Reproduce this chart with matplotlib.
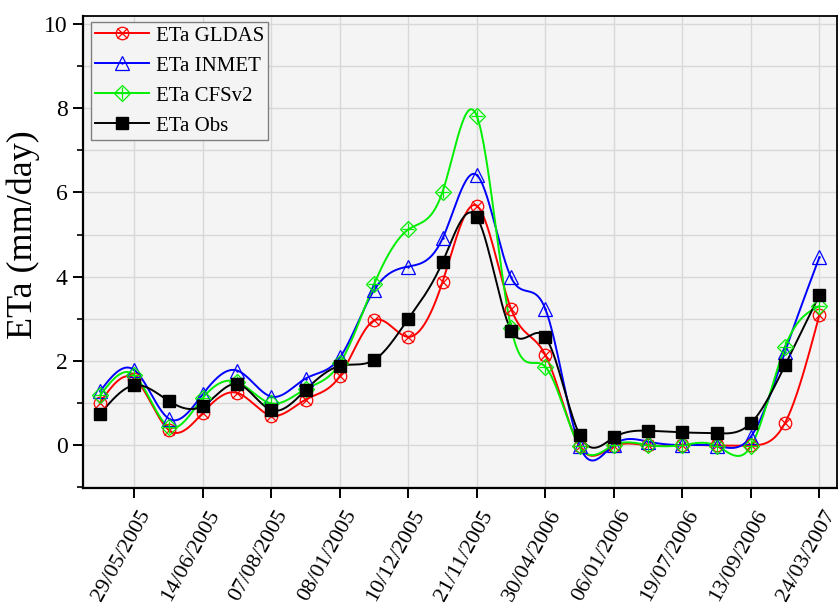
import numpy as np
import matplotlib
matplotlib.use("Agg")
import matplotlib.pyplot as plt
import matplotlib.transforms as mtransforms
from matplotlib.legend_handler import HandlerTuple

plt.rcParams['font.family'] = ['Liberation Serif', 'DejaVu Serif']
plt.rcParams['font.serif'] = ['Liberation Serif', 'DejaVu Serif']

# ---- data ----
x_idx = list(range(22))
tick_idx = [1, 3, 5, 7, 9, 11, 13, 15, 17, 19, 21]
tick_labels = ['29/05/2005', '14/06/2005', '07/08/2005', '08/01/2005', '10/12/2005',
               '21/11/2005', '30/04/2006', '06/01/2006', '19/07/2006', '13/09/2006',
               '24/03/2007']
eta_gldas = [1.01, 1.58, 0.36, 0.77, 1.24, 0.70, 1.08, 1.64, 2.96, 2.57, 3.88, 5.68,
             3.23, 2.14, -0.03, -0.03, -0.01, 0.00, -0.01, -0.01, 0.53, 3.09]
eta_inmet = [1.28, 1.78, 0.63, 1.21, 1.77, 1.15, 1.58, 2.08, 3.68, 4.24, 4.91, 6.41,
             3.98, 3.23, -0.02, 0.01, 0.08, 0.00, -0.02, 0.20, 2.22, 4.46]
eta_cfsv2 = [1.18, 1.66, 0.44, 1.12, 1.50, 0.99, 1.33, 1.94, 3.82, 5.12, 6.02, 7.81,
             2.78, 1.86, -0.03, 0.00, 0.00, 0.00, -0.02, -0.03, 2.34, 3.30]
eta_obs = [0.74, 1.42, 1.05, 0.93, 1.45, 0.83, 1.31, 1.88, 2.02, 3.00, 4.35, 5.41,
           2.72, 2.56, 0.24, 0.18, 0.34, 0.30, 0.28, 0.52, 1.90, 3.56]
y_ticks = [0, 2, 4, 6, 8, 10]


def natural_spline(xs, ys, n=30):
    xs = np.asarray(xs, float)
    ys = np.asarray(ys, float)
    m = len(xs)
    h = np.diff(xs)
    A = np.zeros((m, m))
    b = np.zeros(m)
    A[0, 0] = 1
    A[-1, -1] = 1
    for i in range(1, m - 1):
        A[i, i - 1] = h[i - 1]
        A[i, i] = 2 * (h[i - 1] + h[i])
        A[i, i + 1] = h[i]
        b[i] = 6 * ((ys[i + 1] - ys[i]) / h[i] - (ys[i] - ys[i - 1]) / h[i - 1])
    M = np.linalg.solve(A, b)
    xx, yy = [], []
    for i in range(m - 1):
        t = np.linspace(xs[i], xs[i + 1], n, endpoint=(i == m - 2))
        a = xs[i + 1] - t
        c = t - xs[i]
        y = (M[i] * a ** 3 + M[i + 1] * c ** 3) / (6 * h[i]) \
            + (ys[i] / h[i] - M[i] * h[i] / 6) * a \
            + (ys[i + 1] / h[i] - M[i + 1] * h[i] / 6) * c
        xx.append(t)
        yy.append(y)
    return np.concatenate(xx), np.concatenate(yy)


SERIF = ['Liberation Serif', 'DejaVu Serif']

fig = plt.figure(figsize=(8.38, 6.04), dpi=100)
ax = fig.add_axes([83 / 838, 1 - 488 / 604, (836.5 - 83) / 838, (488 - 16) / 604])
ax.set_facecolor('#f4f4f4')

series = [
    ('ETa GLDAS', eta_gldas, '#ff0000'),
    ('ETa INMET', eta_inmet, '#0000ff'),
    ('ETa CFSv2', eta_cfsv2, '#00ee00'),
    ('ETa Obs', eta_obs, '#000000'),
]

handles = []
for name, vals, col in series:
    sx, sy = natural_spline(x_idx, vals)
    ax.plot(sx, sy, color=col, lw=1.4, zorder=3)
    if name == 'ETa GLDAS':
        h1, = ax.plot(x_idx, vals, ls='none', marker='o', ms=9, mfc='none', mec=col, mew=0.9, zorder=4)
        h2, = ax.plot(x_idx, vals, ls='none', marker='x', ms=6.5, mec=col, mew=0.9, zorder=4)
    elif name == 'ETa INMET':
        h1, = ax.plot(x_idx, vals, ls='none', marker='^', ms=10, mfc='none', mec=col, mew=0.9, zorder=4)
        h2, = ax.plot(x_idx, vals, ls='none', marker='.', ms=1.5, mec=col, mfc=col, zorder=4)
    elif name == 'ETa CFSv2':
        h1, = ax.plot(x_idx, vals, ls='none', marker='D', ms=8, mfc='none', mec=col, mew=0.9, zorder=4)
        h2, = ax.plot(x_idx, vals, ls='none', marker='+', ms=8, mec=col, mew=0.9, zorder=4)
    else:
        h1, = ax.plot(x_idx, vals, ls='none', marker='s', ms=8, mfc=col, mec=col, zorder=5)
        h2 = None
    ln, = ax.plot([], [], color=col, lw=1.4)
    handles.append((ln, h1) if h2 is None else (ln, h1, h2))

ax.set_xlim(-0.5, 21.5)
ax.set_ylim(-1.02, 10.19)
ax.set_yticks(y_ticks)
ax.set_yticklabels([str(v) for v in y_ticks], fontfamily=SERIF, fontsize=17)
ax.set_yticks([-1, 1, 3, 5, 7, 9], minor=True)
ax.set_xticks(tick_idx)
ax.set_xticklabels(tick_labels, rotation=61, ha='right', va='center', rotation_mode='anchor',
                   fontfamily=SERIF, fontsize=16)

ax.tick_params(axis='both', which='major', direction='out', length=7, width=1.4, color='black')
ax.tick_params(axis='y', which='minor', direction='out', length=4, width=1.2)
ax.tick_params(axis='y', which='major', pad=4)
ax.grid(True, which='major', color='#d8d8d8', lw=1)
ax.grid(True, which='minor', axis='y', color='#d8d8d8', lw=1)
ax.set_axisbelow(True)
for s in ['left', 'bottom']:
    ax.spines[s].set_linewidth(1.6)
for s in ['top', 'right']:
    ax.spines[s].set_linewidth(1.3)

offset = mtransforms.ScaledTranslation(12 / 100, -9 / 100, fig.dpi_scale_trans)
for lbl in ax.get_xticklabels():
    lbl.set_transform(lbl.get_transform() + offset)

ax.set_ylabel('ETa (mm/day)', fontsize=26, fontfamily=SERIF)
ax.yaxis.set_label_coords(-0.057, 0.536)

leg = ax.legend(handles, [s[0] for s in series], handler_map={tuple: HandlerTuple(ndivide=1)},
                loc='upper left', bbox_to_anchor=(8 / 753.5, 1 - 6 / 472), borderaxespad=0,
                prop={'family': SERIF, 'size': 15}, handlelength=2.6, handletextpad=0.3,
                labelspacing=0.5, borderpad=0.2, fancybox=False, framealpha=1,
                facecolor='#f4f4f4', edgecolor='#808080')
leg.get_frame().set_linewidth(1.0)

fig.savefig('out.png', dpi=100)
